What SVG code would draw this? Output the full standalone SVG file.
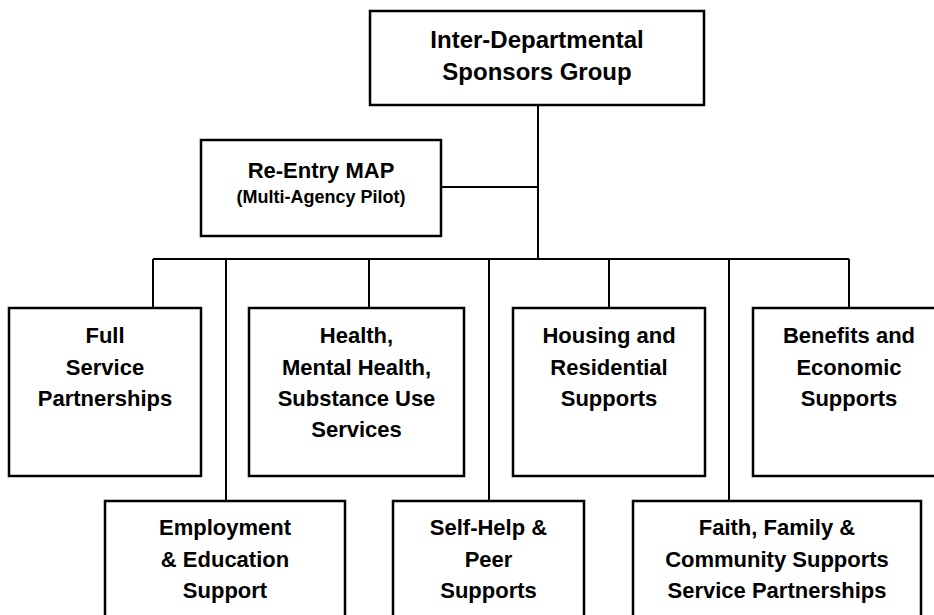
<svg xmlns="http://www.w3.org/2000/svg" width="934" height="615" viewBox="0 0 934 615">
<style>
.box{fill:#fff;stroke:#000;stroke-width:2.5}
.ln{fill:none;stroke:#000;stroke-width:2}
text{font-family:"Liberation Sans",Arial,sans-serif;font-weight:bold;fill:#000;text-anchor:middle}
.t{font-size:22px}
.big{font-size:24px}
.sm{font-size:18px}
</style>
<rect width="934" height="615" fill="#fff"/>
<g id="connectors">
<path class="ln" d="M538 105V259M441 187H538M153 259H849M153 259V308M369 259V308M609 259V308M849 259V308M226 259V501M489 259V501M729 259V501"/>
</g>
<g id="sponsors">
<rect class="box" x="370" y="11" width="334" height="94"/>
<text class="big" x="537" y="48">Inter-Departmental</text>
<text class="big" x="537" y="80">Sponsors Group</text>
</g>
<g id="reentry">
<rect class="box" x="201" y="140" width="240" height="96"/>
<text class="t" x="321" y="178">Re-Entry MAP</text>
<text class="sm" x="321" y="203">(Multi-Agency Pilot)</text>
</g>
<g id="fullservice">
<rect class="box" x="9" y="308" width="192" height="168"/>
<text class="t" x="105" y="343">Full</text>
<text class="t" x="105" y="375">Service</text>
<text class="t" x="105" y="406">Partnerships</text>
</g>
<g id="health">
<rect class="box" x="249" y="308" width="215" height="168"/>
<text class="t" x="356.5" y="343">Health,</text>
<text class="t" x="356.5" y="375">Mental Health,</text>
<text class="t" x="356.5" y="406">Substance Use</text>
<text class="t" x="356.5" y="437">Services</text>
</g>
<g id="housing">
<rect class="box" x="513" y="308" width="192" height="168"/>
<text class="t" x="609" y="343">Housing and</text>
<text class="t" x="609" y="375">Residential</text>
<text class="t" x="609" y="406">Supports</text>
</g>
<g id="benefits">
<rect class="box" x="753" y="308" width="192" height="168"/>
<text class="t" x="849" y="343">Benefits and</text>
<text class="t" x="849" y="375">Economic</text>
<text class="t" x="849" y="406">Supports</text>
</g>
<g id="employment">
<rect class="box" x="105" y="501" width="240" height="140"/>
<text class="t" x="225" y="535">Employment</text>
<text class="t" x="225" y="567">&amp; Education</text>
<text class="t" x="225" y="598">Support</text>
</g>
<g id="selfhelp">
<rect class="box" x="393" y="501" width="191" height="140"/>
<text class="t" x="488.5" y="535">Self-Help &amp;</text>
<text class="t" x="488.5" y="567">Peer</text>
<text class="t" x="488.5" y="598">Supports</text>
</g>
<g id="faith">
<rect class="box" x="633" y="501" width="288" height="140"/>
<text class="t" x="777" y="535">Faith, Family &amp;</text>
<text class="t" x="777" y="567">Community Supports</text>
<text class="t" x="777" y="598">Service Partnerships</text>
</g>
</svg>
